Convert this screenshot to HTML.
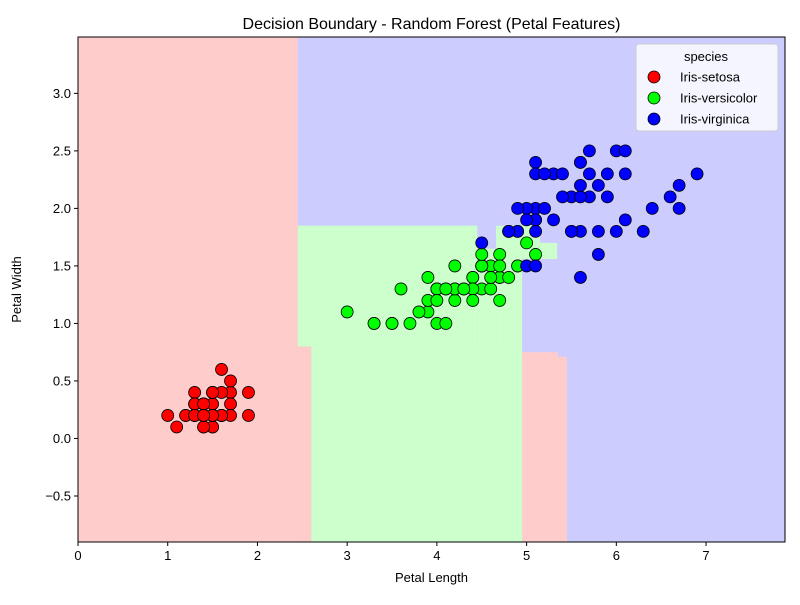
<!DOCTYPE html>
<html><head><meta charset="utf-8"><style>
body{margin:0;background:#fff;font-family:"Liberation Sans",sans-serif}
svg text{font-family:"Liberation Sans",sans-serif}
</style></head><body>
<svg id="chart" width="800" height="600" xmlns="http://www.w3.org/2000/svg"></svg>
<script>
const xDomain=[0,7.88], yDomain=[-0.9,3.49];
const xTicks=[0,1,2,3,4,5,6,7];
const yTicks=[-0.5,0,0.5,1,1.5,2,2.5,3];
const yTickLabels=["\u22120.5","0.0","0.5","1.0","1.5","2.0","2.5","3.0"];
// decision regions [x0,x1,y0,y1] in data units
const redRegions=[[0,2.45,-0.9,3.5],[2.45,2.6,-0.9,0.8],[4.95,5.35,-0.9,0.75],[5.35,5.45,-0.9,0.71]];
const greenRegions=[[2.45,4.45,0.8,1.85],[2.6,4.95,-0.9,0.8],[4.45,4.66,0.8,1.65],[4.66,4.95,0.8,1.85],[4.95,5.15,1.56,1.85],[5.15,5.34,1.56,1.70]];
const setosaL=[1.4,1.4,1.3,1.5,1.4,1.7,1.4,1.5,1.4,1.5,1.5,1.6,1.4,1.1,1.2,1.5,1.3,1.4,1.7,1.5,1.7,1.5,1.0,1.7,1.9,1.6,1.6,1.5,1.4,1.6,1.6,1.5,1.5,1.4,1.5,1.2,1.3,1.4,1.3,1.5,1.3,1.3,1.3,1.6,1.9,1.4,1.6,1.4,1.5,1.4];
const setosaW=[.2,.2,.2,.2,.2,.4,.3,.2,.2,.1,.2,.2,.1,.1,.2,.4,.4,.3,.3,.3,.2,.4,.2,.5,.2,.2,.4,.2,.2,.2,.2,.4,.1,.2,.2,.2,.2,.1,.2,.2,.3,.3,.2,.6,.4,.3,.2,.2,.2,.2];
const versL=[4.7,4.5,4.9,4.0,4.6,4.5,4.7,3.3,4.6,3.9,3.5,4.2,4.0,4.7,3.6,4.4,4.5,4.1,4.5,3.9,4.8,4.0,4.9,4.7,4.3,4.4,4.8,5.0,4.5,3.5,3.8,3.7,3.9,5.1,4.5,4.5,4.7,4.4,4.1,4.0,4.4,4.6,4.0,3.3,4.2,4.2,4.2,4.3,3.0,4.1];
const versW=[1.4,1.5,1.5,1.3,1.5,1.3,1.6,1.0,1.3,1.4,1.0,1.5,1.0,1.4,1.3,1.4,1.5,1.0,1.5,1.1,1.8,1.3,1.5,1.2,1.3,1.4,1.4,1.7,1.5,1.0,1.1,1.0,1.2,1.6,1.5,1.6,1.5,1.3,1.3,1.3,1.2,1.4,1.2,1.0,1.3,1.2,1.3,1.3,1.1,1.3];
const virgL=[6.0,5.1,5.9,5.6,5.8,6.6,4.5,6.3,5.8,6.1,5.1,5.3,5.5,5.0,5.1,5.3,5.5,6.7,6.9,5.0,5.7,4.9,6.7,4.9,5.7,6.0,4.8,4.9,5.6,5.8,6.1,6.4,5.6,5.1,5.6,6.1,5.6,5.5,4.8,5.4,5.6,5.1,5.1,5.9,5.7,5.2,5.0,5.2,5.4,5.1];
const virgW=[2.5,1.9,2.1,1.8,2.2,2.1,1.7,1.8,1.8,2.5,2.0,1.9,2.1,2.0,2.4,2.3,1.8,2.2,2.3,1.5,2.3,2.0,2.0,1.8,2.1,1.8,1.8,1.8,2.1,1.6,1.9,2.0,2.2,1.5,1.4,2.3,2.4,1.8,1.8,2.1,2.4,2.3,1.9,2.3,2.5,2.3,1.9,2.0,2.3,1.8];
const speciesNames=["Iris-setosa","Iris-versicolor","Iris-virginica"];
const speciesColors=["#ff0000","#00ff00","#0000ff"];

const L=78,R=785,T=37,B=542;
const sx=v=>L+(v-xDomain[0])/(xDomain[1]-xDomain[0])*(R-L);
const sy=v=>B-(v-yDomain[0])/(yDomain[1]-yDomain[0])*(B-T);
const svg=document.getElementById('chart');
const NS="http://www.w3.org/2000/svg";
function mk(tag,attrs,parent){const e=document.createElementNS(NS,tag);for(const k in attrs)e.setAttribute(k,attrs[k]);(parent||svg).appendChild(e);return e;}
const clip=mk('clipPath',{id:'plotclip'});mk('rect',{x:L,y:T,width:R-L,height:B-T},clip);
const g=mk('g',{'clip-path':'url(#plotclip)'});


let bg=mk('rect',{x:L,y:T,width:R-L,height:B-T,fill:'#ccccff'},g);


function region(r,fill,name){
  const x0=Math.max(sx(r[0]),L),x1=sx(r[1]),y0=sy(r[3]),y1=sy(r[2]);
  const e=mk('rect',{x:x0,y:y0,width:x1-x0,height:y1-y0,fill:fill},g);
  
  
}
redRegions.forEach(r=>region(r,'#ffcccc','setosa-region'));
greenRegions.forEach(r=>region(r,'#ccffcc','versicolor-region'));
function pts(xs,ys,color,name){
  xs.forEach((x,i)=>{
    const c=mk('circle',{cx:sx(x),cy:sy(ys[i]),r:6,fill:color,stroke:'#000','stroke-width':0.8},g);
    
    
  });
}
pts(setosaL,setosaW,speciesColors[0],'setosa-point');
pts(versL,versW,speciesColors[1],'versicolor-point');
pts(virgL,virgW,speciesColors[2],'virginica-point');
let frame=mk('rect',{x:L,y:T,width:R-L,height:B-T,fill:'none',stroke:'#000','stroke-width':1});


xTicks.forEach(v=>{
  mk('line',{x1:sx(v),x2:sx(v),y1:B,y2:B+4,stroke:'#000'});
  const t=mk('text',{x:sx(v),y:B+18,'font-size':13,'text-anchor':'middle'});t.textContent=v;
  
  
});
yTicks.forEach((v,i)=>{
  mk('line',{x1:L-4,x2:L,y1:sy(v),y2:sy(v),stroke:'#000'});
  const t=mk('text',{x:L-7,y:sy(v)+4.5,'font-size':13,'text-anchor':'end'});t.textContent=yTickLabels[i];
  
  
});
let tt=mk('text',{x:(L+R)/2,y:29,'font-size':16,'text-anchor':'middle'});tt.textContent='Decision Boundary - Random Forest (Petal Features)';


let xl=mk('text',{x:(L+R)/2,y:582,'font-size':13,'text-anchor':'middle'});xl.textContent='Petal Length';


let yl=mk('text',{x:21,y:(T+B)/2,'font-size':13,'text-anchor':'middle',transform:'rotate(-90 21 '+((T+B)/2)+')'});yl.textContent='Petal Width';


const lg=mk('g',{});


mk('rect',{x:636,y:44,width:142,height:87,rx:3,fill:'#fff','fill-opacity':0.8,stroke:'#ccc'},lg);
let lt=mk('text',{x:706,y:61,'font-size':13,'text-anchor':'middle'},lg);lt.textContent='species';
speciesNames.forEach((n,i)=>{
  const y=77+i*21;
  const c=mk('circle',{cx:654,cy:y,r:6,fill:speciesColors[i],stroke:'#000','stroke-width':0.8},lg);
  
  
  const t=mk('text',{x:680,y:y+4.5,'font-size':13},lg);t.textContent=n;
  
  
});
</script>
</body></html>
